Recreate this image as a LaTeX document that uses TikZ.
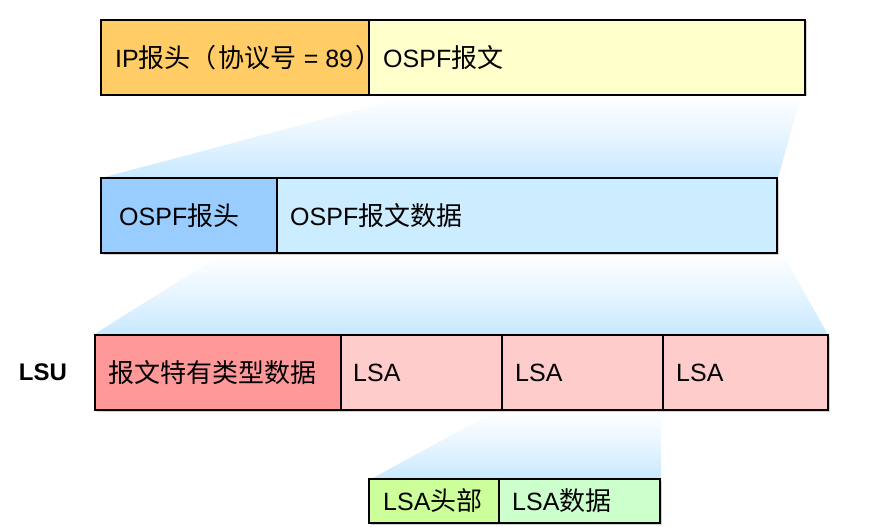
\documentclass[tikz,border=0pt]{standalone}
\usepackage{fontspec}
\setmainfont{Liberation Sans}
\newfontfamily\cjk[Scale=1.04]{Noto Sans CJK SC}
\usetikzlibrary{shadows}
\definecolor{cOrange}{HTML}{FFCC66}
\definecolor{cYellow}{HTML}{FFFFCC}
\definecolor{cBlue}{HTML}{99CCFF}
\definecolor{cLBlue}{HTML}{CCECFF}
\definecolor{cRed}{HTML}{FF9999}
\definecolor{cPink}{HTML}{FFCCCC}
\definecolor{cGreen}{HTML}{CCFF99}
\definecolor{cLGreen}{HTML}{CCFFCC}
\definecolor{cFan}{HTML}{C8E8FF}
\newcommand\zh[1]{{\cjk #1}}
\begin{document}
\begin{tikzpicture}[x=1pt,y=-1pt,
  cell/.style={draw=black, line width=2.5pt, anchor=north west, inner sep=0pt, outer sep=0pt,
    minimum height=75pt, drop shadow={shadow xshift=1.5pt, shadow yshift=-1.5pt, fill=black!35}},
  txt/.style={anchor=west, inner sep=0pt, font=\fontsize{25}{30}\selectfont},
  fan/.style={top color=white, bottom color=cFan, middle color=cFan!45, draw=none}]
\useasboundingbox (0,0) rectangle (876,527);
% fans
\shade[fan] (410,96) -- (801,96) -- (778,178) -- (101,178) -- cycle;
\shade[fan] (222,254) -- (783,254) -- (828,335) -- (93,335) -- cycle;
\shade[fan] (494,412) -- (661,412) -- (661,479) -- (371,479) -- cycle;
% row 1
\node[cell, fill=cOrange, minimum width=268pt] (ip) at (101,20) {};
\node[cell, fill=cYellow, minimum width=436pt] (ospf) at (369,20) {};
\node[txt] (ipT) at ([xshift=14pt]ip.west) {IP\zh{报头（\hspace{2pt}协议号} = 89\hspace{2pt}\zh{）}};
\node[txt] (ospfT) at ([xshift=14pt]ospf.west) {OSPF\zh{报文}};
% row 2
\node[cell, fill=cBlue, minimum width=176pt] (hdr) at (101,178) {};
\node[cell, fill=cLBlue, minimum width=500pt] (data) at (277,178) {};
\node[txt] (hdrT) at ([xshift=18pt]hdr.west) {OSPF\zh{报头}};
\node[txt] (dataT) at ([xshift=13pt]data.west) {OSPF\zh{报文数据}};
% row 3
\node[anchor=center, inner sep=0pt, font=\fontsize{24}{28}\selectfont\bfseries] (lsu) at (43,372) {LSU};
\node[cell, fill=cRed, minimum width=246pt] (spec) at (95,335) {};
\node[cell, fill=cPink, minimum width=161pt] (lsa1) at (341,335) {};
\node[cell, fill=cPink, minimum width=161pt] (lsa2) at (502,335) {};
\node[cell, fill=cPink, minimum width=165pt] (lsa3) at (663,335) {};
\node[txt] (specT) at ([xshift=13pt]spec.west) {\zh{报文特有类型数据}};
\node[txt] (lsa1T) at ([xshift=12pt]lsa1.west) {LSA};
\node[txt] (lsa2T) at ([xshift=13pt]lsa2.west) {LSA};
\node[txt] (lsa3T) at ([xshift=13pt]lsa3.west) {LSA};
% row 4
\node[cell, fill=cGreen, minimum width=130pt, minimum height=44pt] (lsah) at (369,479) {};
\node[cell, fill=cLGreen, minimum width=161pt, minimum height=44pt] (lsad) at (499,479) {};
\node[txt] (lsahT) at ([xshift=14pt]lsah.west) {LSA\zh{头部}};
\node[txt] (lsadT) at ([xshift=13pt]lsad.west) {LSA\zh{数据}};
\end{tikzpicture}
\end{document}
